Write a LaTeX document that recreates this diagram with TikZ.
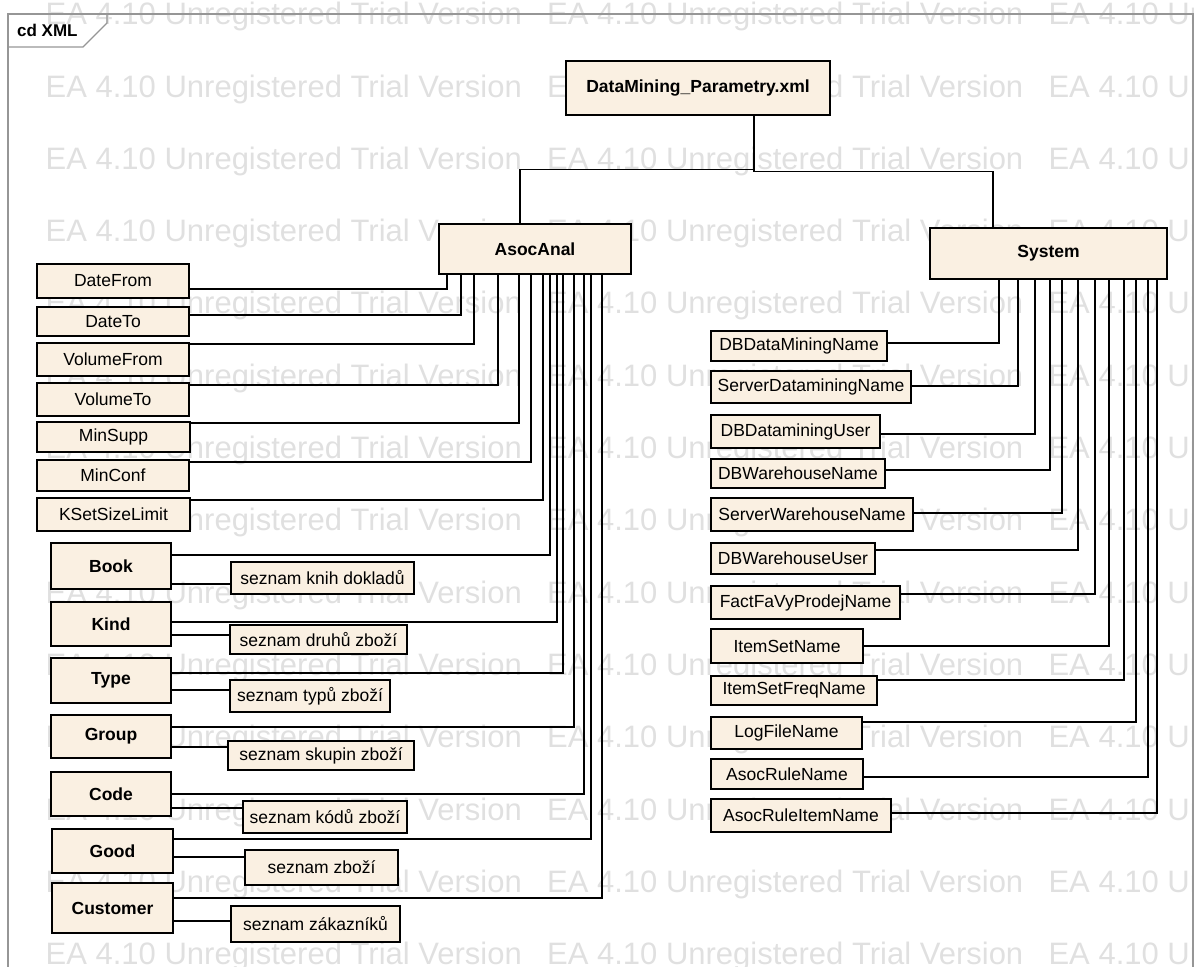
\documentclass[tikz,border=0pt]{standalone}
\usepackage{fontspec}
\setmainfont{Liberation Sans}
\usepackage{tikz}
\usetikzlibrary{calc,positioning}
\definecolor{classfill}{RGB}{250,240,226}
\definecolor{framegray}{RGB}{150,150,150}
\definecolor{trialgray}{RGB}{224,224,224}
\newcommand{\trialtext}{EA 4.10 Unregistered Trial Version}
\newcommand{\trialrow}{\makebox[501.5pt][l]{\trialtext}\makebox[501.5pt][l]{\trialtext}\trialtext}
\tikzset{
    component/.style={
    rectangle,draw=black,fill=classfill,line width=2pt,inner sep=0pt,
    font=\fontsize{17.5}{20}\selectfont
    },
    bcomponent/.style={
    component,font=\fontsize{17.5}{20}\selectfont\bfseries
    },
    boxsize/.style 2 args={
    minimum width=#1pt,minimum height=#2pt
    },
    connection/.style={
    draw=black,line width=1.5pt,
    to path={-| (\tikztotarget)}
    },
    tconnection/.style={
    draw=black,line width=1.5pt,
    to path={|- ($(\tikztostart)!.5!(\tikztotarget)$) -| (\tikztotarget)}
    },
    trial/.style={
    text=trialgray,inner sep=0pt,anchor=base west,font=\fontsize{31}{31}\selectfont
    },
    frame/.style={
    draw=framegray,line width=1.3pt
    },
}
\begin{document}
\begin{tikzpicture}[x=1pt, y=-1pt]
  \useasboundingbox (0,0) rectangle (1198,966);

  % trial watermark
  \begin{scope}
  \clip (0,0) rectangle (1193,966);
  \node[trial] (wm1) at (45.5,24.7) {\trialrow};
  \node[trial] (wm2) at (45.5,97.0) {\trialrow};
  \node[trial] (wm3) at (45.5,169.3) {\trialrow};
  \node[trial] (wm4) at (45.5,241.6) {\trialrow};
  \node[trial] (wm5) at (45.5,313.9) {\trialrow};
  \node[trial] (wm6) at (45.5,386.2) {\trialrow};
  \node[trial] (wm7) at (45.5,458.5) {\trialrow};
  \node[trial] (wm8) at (45.5,530.8) {\trialrow};
  \node[trial] (wm9) at (45.5,603.1) {\trialrow};
  \node[trial] (wm10) at (45.5,675.4) {\trialrow};
  \node[trial] (wm11) at (45.5,747.7) {\trialrow};
  \node[trial] (wm12) at (45.5,820.0) {\trialrow};
  \node[trial] (wm13) at (45.5,892.3) {\trialrow};
  \node[trial] (wm14) at (45.5,964.6) {\trialrow};
  \end{scope}

  % diagram frame
  \draw[frame] (8,975) |- (1193,14) -- (1193,975);
  \draw[frame] (8,47) -- (83,47) -- (107,23) -- (107,14);
  \node[anchor=base west,inner sep=0pt,font=\fontsize{17}{17}\selectfont\bfseries] (title) at (17,37) {cd XML};

  \node[bcomponent, boxsize={264}{54}] (DM) at (698,88) {DataMining\_Parametry.xml};
  \node[bcomponent, boxsize={192}{50}] (AsocAnal) at (535,249) {AsocAnal};
  \node[bcomponent, boxsize={237}{51}] (System) at (1048.5,253.5) {System};

  \node[component, boxsize={152}{34}] (DateFrom) at (113,281) {DateFrom};
  \node[component, boxsize={152}{29}] (DateTo) at (113,321.5) {DateTo};
  \node[component, boxsize={152}{33}] (VolumeFrom) at (113,359.5) {VolumeFrom};
  \node[component, boxsize={152}{33}] (VolumeTo) at (113,399.5) {VolumeTo};
  \node[component, boxsize={153}{30}] (MinSupp) at (113.5,437) {MinSupp};
  \node[component, boxsize={152}{31}] (MinConf) at (113,475.5) {MinConf};
  \node[component, boxsize={153}{33}] (KSetSizeLimit) at (113.5,514.5) {KSetSizeLimit};
  \node[bcomponent, boxsize={120}{46}] (Book) at (111,566) {Book};
  \node[bcomponent, boxsize={120}{44}] (Kind) at (111,624) {Kind};
  \node[bcomponent, boxsize={120}{45}] (Type) at (111,680.5) {Type};
  \node[bcomponent, boxsize={120}{43}] (Group) at (111,736.5) {Group};
  \node[bcomponent, boxsize={120}{44}] (Code) at (111,794) {Code};
  \node[bcomponent, boxsize={121}{44}] (Good) at (112.5,851) {Good};
  \node[bcomponent, boxsize={121}{50}] (Customer) at (112.5,908) {Customer};

  \node[component, boxsize={183}{32}] (BookList) at (322.5,578) {seznam knih dokladů};
  \node[component, boxsize={177}{29}] (KindList) at (318.5,639.5) {seznam druhů zboží};
  \node[component, boxsize={160}{32}] (TypeList) at (310,696) {seznam typů zboží};
  \node[component, boxsize={186}{29}] (GroupList) at (321,755.5) {seznam skupin zboží};
  \node[component, boxsize={164}{32}] (CodeList) at (325,817) {seznam kódů zboží};
  \node[component, boxsize={153}{35}] (GoodList) at (321.5,867.5) {seznam zboží};
  \node[component, boxsize={169}{36}] (CustomerList) at (315.5,924) {seznam zákazníků};

  \node[component, boxsize={176}{30}] (DBDataMiningName) at (799,346) {DBDataMiningName};
  \node[component, boxsize={200}{32}] (ServerDataminingName) at (811,387) {ServerDataminingName};
  \node[component, boxsize={169}{33}] (DBDataminingUser) at (795.5,431.5) {DBDataminingUser};
  \node[component, boxsize={174}{29}] (DBWarehouseName) at (798,473.5) {DBWarehouseName};
  \node[component, boxsize={202}{33}] (ServerWarehouseName) at (812,514.5) {ServerWarehouseName};
  \node[component, boxsize={164}{31}] (DBWarehouseUser) at (793,558.5) {DBWarehouseUser};
  \node[component, boxsize={189}{33}] (FactFaVyProdejName) at (805.5,602.5) {FactFaVyProdejName};
  \node[component, boxsize={152}{34}] (ItemSetName) at (787,646) {ItemSetName};
  \node[component, boxsize={166}{29}] (ItemSetFreqName) at (794,690.5) {ItemSetFreqName};
  \node[component, boxsize={151}{32}] (LogFileName) at (786.5,733) {LogFileName};
  \node[component, boxsize={152}{30}] (AsocRuleName) at (787,774) {AsocRuleName};
  \node[component, boxsize={180}{33}] (AsocRuleItemName) at (801,815.5) {AsocRuleItemName};

  \path[-]
    (DM.south -| 754,0) edge[tconnection] (AsocAnal.north -| 520,0)
                        edge[tconnection] (System.north -| 993,0)
    (DateFrom.east |- 0,289) edge[connection] (447,0 |- AsocAnal.south)
    (DateTo.east |- 0,315) edge[connection] (461,0 |- AsocAnal.south)
    (VolumeFrom.east |- 0,344) edge[connection] (474,0 |- AsocAnal.south)
    (VolumeTo.east |- 0,385) edge[connection] (498,0 |- AsocAnal.south)
    (MinSupp.east |- 0,423) edge[connection] (519,0 |- AsocAnal.south)
    (MinConf.east |- 0,462) edge[connection] (531,0 |- AsocAnal.south)
    (KSetSizeLimit.east |- 0,500) edge[connection] (543,0 |- AsocAnal.south)
    (Book.east |- 0,555) edge[connection] (550,0 |- AsocAnal.south)
    (Kind.east |- 0,622) edge[connection] (557,0 |- AsocAnal.south)
    (Type.east |- 0,673) edge[connection] (563,0 |- AsocAnal.south)
    (Group.east |- 0,727) edge[connection] (574,0 |- AsocAnal.south)
    (Code.east |- 0,794) edge[connection] (584,0 |- AsocAnal.south)
    (Good.east |- 0,839) edge[connection] (591,0 |- AsocAnal.south)
    (Customer.east |- 0,898) edge[connection] (602,0 |- AsocAnal.south)
    (Book.east |- 0,584) edge[connection] (BookList.west |- 0,584)
    (Kind.east |- 0,635) edge[connection] (KindList.west |- 0,635)
    (Type.east |- 0,690) edge[connection] (TypeList.west |- 0,690)
    (Group.east |- 0,747) edge[connection] (GroupList.west |- 0,747)
    (Code.east |- 0,808) edge[connection] (CodeList.west |- 0,808)
    (Good.east |- 0,857) edge[connection] (GoodList.west |- 0,857)
    (Customer.east |- 0,921) edge[connection] (CustomerList.west |- 0,921)
    (DBDataMiningName.east |- 0,343) edge[connection] (999,0 |- System.south)
    (ServerDataminingName.east |- 0,386) edge[connection] (1018,0 |- System.south)
    (DBDataminingUser.east |- 0,434) edge[connection] (1035,0 |- System.south)
    (DBWarehouseName.east |- 0,470) edge[connection] (1050,0 |- System.south)
    (ServerWarehouseName.east |- 0,513) edge[connection] (1062,0 |- System.south)
    (DBWarehouseUser.east |- 0,550) edge[connection] (1078,0 |- System.south)
    (FactFaVyProdejName.east |- 0,594) edge[connection] (1095,0 |- System.south)
    (ItemSetName.east |- 0,646) edge[connection] (1109,0 |- System.south)
    (ItemSetFreqName.east |- 0,680) edge[connection] (1124,0 |- System.south)
    (LogFileName.east |- 0,722) edge[connection] (1136,0 |- System.south)
    (AsocRuleName.east |- 0,777) edge[connection] (1148,0 |- System.south)
    (AsocRuleItemName.east |- 0,813) edge[connection] (1157,0 |- System.south);

\end{tikzpicture}
\end{document}
